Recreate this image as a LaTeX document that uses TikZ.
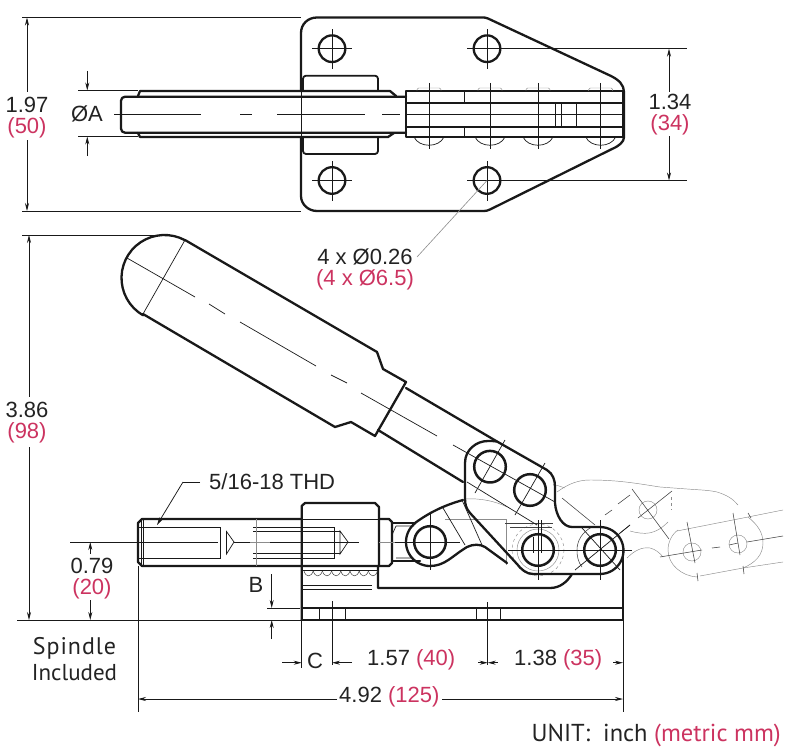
\documentclass[tikz,border=0pt]{standalone}
\usepackage{fontspec}
\setmainfont{Liberation Sans}
\newfontfamily\myriad{PT Sans}
\newfontfamily\myriadwide[LetterSpace=4]{PT Sans}
\usetikzlibrary{arrows.meta}
\definecolor{redtxt}{RGB}{204,51,96}
\definecolor{inktxt}{RGB}{35,35,35}
\tikzset{
  heavy/.style={line width=2.3pt,line join=round,line cap=round,black!90},
  fine/.style={line width=0.7pt,black!90},
  ghost/.style={line width=0.45pt,black!45},
  ghostblack/.style={line width=0.55pt,black!75},
  dimln/.style={line width=0.75pt,black!90},
  dimarrow/.style={dimln,-{Stealth[length=8pt,width=4pt]}},
  lab/.style={inner sep=0pt,font=\fontsize{22pt}{24pt}\selectfont,text=inktxt},
  redlab/.style={inner sep=0pt,font=\fontsize{22pt}{24pt}\selectfont,text=redtxt},
  caplab/.style={inner sep=0pt,font=\myriad\fontsize{24.5pt}{28pt}\selectfont,text=inktxt},
}
\newcommand{\sarc}[5]{-- plot[domain=#4:#5,samples=24] ({#1+#3*cos(\x)},{#2+#3*sin(\x)})}
\begin{document}
\begin{tikzpicture}[x=1pt,y=-1pt]
\useasboundingbox (0,0) rectangle (801,752);
\fill[white] (0,0) rectangle (801,752);

% ---------- TOP VIEW ----------
\coordinate (hA) at (332,48.7);
\coordinate (hB) at (332,180.5);
\coordinate (hC) at (487,48.7);
\coordinate (hD) at (487,180.5);
\draw[heavy] (301,91) -- (301,33) .. controls (301,24) and (308,17.5) .. (317,17.5)
  -- (482,17.5) .. controls (484,17.5) and (486,17.5) .. (488,18.5)
  -- (611,76) .. controls (619,80) and (624,85) .. (624,92)
  -- (624,137) .. controls (624,142) and (619,146) .. (612,149)
  -- (490,209.5) .. controls (488,210.5) and (486,211) .. (484,211)
  -- (317,211) .. controls (308,211) and (301,204) .. (301,196) -- (301,137);
\draw[fine] (301.5,91) -- (301.5,137);
\foreach \h in {hA,hB,hC,hD}{
  \draw[heavy] (\h) circle[radius=13.3];
  \draw[fine] ([xshift=-20pt]\h) -- ([xshift=20pt]\h) ([yshift=-20pt]\h) -- ([yshift=20pt]\h);
}
% handle in top view
\draw[heavy,rounded corners=4pt] (406,96.7) -- (121,96.7) -- (121,132.7) -- (406,132.7);
\draw[heavy] (138,96) -- (140,91) -- (390,91) -- (396,96);
\draw[heavy] (138,133) -- (140,137) -- (388,137) -- (394,133);
\draw[heavy,line width=1.8pt,rounded corners=3pt] (303,91) -- (303,75.7) -- (378,75.7) -- (378,91);
\draw[heavy,line width=1.8pt,rounded corners=3pt] (303,137) -- (303,154) -- (378,154) -- (378,137);
\draw[fine] (114,114.3) -- (201,114.3) (240,114.3) -- (252,114.3) (277,114.3) -- (365,114.3) (382,114.3) -- (400,114.3);
% right rectangle
\draw[heavy] (406,91) rectangle (622.7,137);
\draw[heavy] (406,102.7) -- (622.7,102.7) (406,126.7) -- (622.7,126.7);
\draw[fine] (406,114.3) -- (622,114.3);
\draw[fine] (464,91) -- (464,102.7) (464,126.7) -- (464,137);
\draw[fine] (555.7,102.7) -- (555.7,126.7) (561.7,102.7) -- (561.7,126.7) (576.7,102.7) -- (576.7,126.7);
\foreach \rx in {429,490,538,600.7}{
  \draw[fine] (\rx,83) -- (\rx,149);
  \draw[ghost,rounded corners=1.5pt] (\rx-12,91) -- (\rx-12,88) -- (\rx+12,88) -- (\rx+12,91);
  \draw[fine] (\rx-15,137) .. controls (\rx-10,148) and (\rx+10,148) .. (\rx+15,137);
}
% top-view dimensions
\draw[dimln] (22,17.5) -- (301,17.5) (22,211) -- (301,211);
\draw[dimln,{Stealth[length=8pt,width=4pt]}-] (27,17.5) -- (27,92);
\draw[dimln,-{Stealth[length=8pt,width=4pt]}] (27,140) -- (27,211);
\node[lab] (t197) at (27,105) {1.97};
\node[redlab] (t50) at (27,127.5) {(50)};
\draw[dimln] (78,90.5) -- (138,90.5) (78,136.5) -- (138,136.5);
\draw[dimarrow] (87.3,71) -- (87.3,90.5);
\draw[dimarrow] (87.3,156) -- (87.3,136.5);
\node[lab] (tA) at (87,114) {ØA};
\draw[dimln] (507,48.7) -- (687,48.7) (507,180.5) -- (687,180.5);
\draw[dimln,{Stealth[length=8pt,width=4pt]}-] (669,48.7) -- (669,92);
\draw[dimln,-{Stealth[length=8pt,width=4pt]}] (669,136) -- (669,180.5);
\node[lab] (t134) at (670,102) {1.34};
\node[redlab] (t34) at (670,124.5) {(34)};
\node[lab] (t026) at (365,257) {4 x Ø0.26};
\node[redlab] (t65) at (365,279.5) {(4 x Ø6.5)};
\draw[ghost,line width=0.6pt] (hD) -- (417,257);

% ---------- GHOST (open position) ----------
\draw[ghost] (557,492) .. controls (568,484) and (578,480) .. (590,480) .. controls (620,480) and (640,484) .. (660,487)
  -- (687,489) .. controls (700,490) and (708,490) .. (717,492) .. controls (727,495) and (733,499) .. (738,505);
\draw[ghost] (677,531) -- (748,517) (748,517) -- (783,510);
\draw[ghost] (700,576) -- (743,568) -- (783,562);
\draw[ghost] (748,517) .. controls (758,525) and (763,533) .. (763,543) .. controls (763,555) and (755,563) .. (743,568);
\draw[ghost] (678,530) .. controls (672,534) and (668,542) .. (668,550) .. controls (668,565) and (682,576) .. (697,577);
\draw[ghost] (630,531) .. controls (645,535) and (655,535) .. (668,522);
\draw[ghost] (627,558) .. controls (635,550) and (642,547) .. (650,548) .. controls (655,549) and (660,553) .. (663,557);
\draw[ghost,dashed] (671,497) -- (671,510);
\draw[ghost] (692,552) circle[radius=9];
\draw[ghost] (738,544) circle[radius=9];
\draw[ghost] (648,510) circle[radius=9];
\draw[ghostblack] (660,557) -- (702,550) (712,548) -- (720,547) (729,545) -- (738,543) (747,542) -- (783,536);
\draw[ghostblack] (687,522) -- (695,563) (733,513) -- (740,555);
\draw[ghostblack] (697,573) -- (698,581) (743,566) -- (744,574) (748,513) -- (751,518);
\draw[ghostblack] (632,489) -- (669,539) (672,491) -- (638,518);
\draw[ghostblack] (605,515) -- (612,510) (618,504) -- (630,495);
\draw[ghostblack] (620,533) -- (630,525);

% ---------- SIDE VIEW: thin construction lines ----------
\draw[ghost] (445,519) -- (506,519) -- (506,565);
\draw[ghost,dashed] (538,550) circle[radius=26];
\draw[ghost] (538,550) circle[radius=21];
\draw[ghost] (465,499) .. controls (480,498) and (495,501) .. (507,507);
\draw[ghost] (553,484) -- (565,488);
\draw[ghostblack] (505,523) -- (553,523) (510,527) -- (552,527);
\draw[fine] (533,537) -- (533,553) (541,520) -- (541,553);
\draw[ghostblack] (562,498) -- (595,525);
\draw[fine] (582,528) -- (620,570) (630,525) -- (575,570);
\draw[ghostblack] (592,527) .. controls (582,532) and (577,541) .. (577,550) .. controls (577,556) and (578,562) .. (582,567);

% ---------- HANDLE ----------
\draw[heavy] (185,240) -- (377,352) -- (383,369) -- (406,382) -- (375,436) -- (351,422) -- (335,427) -- (143,314)
  \sarc{164.5}{278}{43}{120}{298};
\draw[heavy] (406,388) -- (497,441.5);
\draw[heavy] (378,430) -- (463,482);
\draw[fine] (185,240) -- (143,314);
\draw[fine] (127,258) -- (195,297) (209,304) -- (225,314) (240,322) -- (316,366) (331,375) -- (347,383) (361,393) -- (437,436) (453,445) -- (555,502);
\draw[fine] (467,482) -- (537,525);

% clevis plate
\draw[heavy] (497,441.5) -- (547,470) .. controls (553,474) and (555,480) .. (555,487)
  -- (555,503) .. controls (556,516) and (563,527) .. (572,527) -- (600,527)
  \sarc{600}{550.5}{23.5}{-90}{90} -- (533,574)
  .. controls (526,574) and (521,569) .. (517,564) -- (470,513)
  .. controls (466,508) and (465,505) .. (465,498) -- (465,463)
  .. controls (465,450) and (476,441) .. (488,441) .. controls (491,441) and (494,441) .. (497,441.5);
% link
\draw[heavy] (463,500) .. controls (445,505) and (430,512) .. (415,523)
  \sarc{430}{542}{24}{232}{90}
  .. controls (445,566) and (452,556) .. (467,547) .. controls (473,544) and (480,544) .. (485,547) -- (507,563);
\draw[fine] (443,508) -- (465,545) (462,500) -- (482,545);
\draw[fine] \sarc{430}{542}{20.5}{-65}{65};
% holes
\foreach \cx/\cy in {490/466.7,530/490,538/550,600/550,430/542}{
  \draw[heavy,line width=2.5pt] (\cx,\cy) circle[radius=15.8];
}
\draw[fine] (475,493) -- (505,440) (515,515) -- (545,463);
\draw[fine] (395,542) -- (460,542) (430,512) -- (430,570);
\draw[fine] (508,550) -- (632,550);
\draw[fine] (538,520) -- (538,580) (600,520) -- (600,580);

% ---------- SPINDLE AND BASE ----------
\draw[heavy] (301.7,519) -- (142,519) -- (138,523) -- (138,562) -- (142,566) -- (379,566);
\draw[heavy] (301.7,620) -- (301.7,506) -- (305,503) -- (375,503) -- (379,507) -- (379,566);
\draw[heavy] (379,519) -- (389,519) -- (392,522) -- (392,563) -- (389,566) -- (379,566);
\draw[heavy] (392,523) -- (415,523) (392,561) -- (420,561);
\draw[fine] (396,526) -- (414,526) (396,558) -- (413,558) (396,526) -- (392,535);
\draw[heavy] (378,566) -- (378,588) -- (550,588) .. controls (560,588) and (567,582) .. (572,574);
\draw[heavy] (301.7,620) -- (623,620) -- (623,550);
\draw[heavy] (301.7,608) -- (623,608);
\draw[fine] (476,608) -- (476,620) (500,608) -- (500,620);
\draw[fine] (319,608) -- (319,620) (345,608) -- (345,620);
\draw[fine] (301.7,519) -- (379,519);
\draw[fine] (70,542) -- (218,542) (234,542) -- (250,542) (270,542) -- (359,542);
\draw[ghost] (250,542) -- (270,542) (379,542) -- (395,542);
\draw[fine] (141,519) -- (141,566) (143.5,519) -- (143.5,566);
\draw[fine] (138,527.3) -- (220.7,527.3) -- (220.7,558.3) -- (138,558.3);
\draw[fine] (226.5,531.5) -- (234,542) -- (226.5,554) -- cycle;
\draw[fine] (253.3,527.3) -- (334.3,527.3) -- (334.3,558.3) -- (253.3,558.3) (253.3,531) -- (340,531) (253.3,553) -- (340,553);
\draw[fine] (340,531) -- (348,542) -- (340,554) -- cycle;
\draw[ghost] (256.7,519) -- (256.7,566);
\foreach \i in {0,...,7}{
  \draw[line width=0.45pt,black!80] (304+9.2*\i,571) .. controls (306+9.2*\i,577.5) and (311+9.2*\i,577.5) .. (313.2+9.2*\i,571);
}
\draw[fine] (303,570) -- (378,570);
\draw[fine] (301.7,585.7) -- (372,585.7) (301.7,589) -- (372,589);
\draw[fine] (487.7,602) -- (487.7,665);
\draw[fine] (332,601) -- (332,665);

% ---------- SIDE-VIEW DIMENSIONS ----------
\draw[dimln] (22,235) -- (163,235);
\draw[dimln] (17,620) -- (301,620);
\draw[dimln,{Stealth[length=8pt,width=4pt]}-] (29,235) -- (29,397);
\draw[dimln,-{Stealth[length=8pt,width=4pt]}] (29,447) -- (29,620);
\node[lab] (t386) at (27,410) {3.86};
\node[redlab] (t98) at (27,433) {(98)};
\draw[dimarrow] (90.3,554) -- (90.3,542);
\draw[dimarrow] (90.3,600) -- (90.3,620);
\node[lab] (t079) at (92,566) {0.79};
\node[redlab] (t20) at (92,589) {(20)};
\node[lab,anchor=west] (tthd) at (209,482) {5/16-18 THD};
\coordinate (thdbend) at (183,482);
\coordinate (thdtip) at (157,525);
\draw[dimln] (200,482) -- (thdbend);
\draw[dimarrow] (thdbend) -- (thdtip);
\node[lab] (tB) at (256,585) {B};
\draw[dimarrow] (271.7,574) -- (271.7,608);
\draw[dimarrow] (271.7,639) -- (271.7,620);
\draw[dimln] (267,608) -- (300,608);
\draw[dimln] (301.7,620) -- (301.7,668);
\draw[dimln] (138,566) -- (138,712);
\draw[dimln] (623,620) -- (623,712);
\node[lab] (tC) at (315,661) {C};
\draw[dimarrow] (282,662.7) -- (301.7,662.7);
\draw[dimarrow] (352,662.7) -- (332,662.7);
\node[lab,anchor=west] (t157) at (367,660) {1.57 \textcolor{redtxt}{(40)}};
\draw[dimarrow] (478,662.7) -- (487.7,662.7);
\draw[dimarrow] (497.5,662.7) -- (487.7,662.7);
\node[lab,anchor=west] (t138) at (514,660) {1.38 \textcolor{redtxt}{(35)}};
\draw[dimarrow] (613,662.7) -- (623,662.7);
\node[lab,anchor=west] (t492) at (339,697) {4.92 \textcolor{redtxt}{(125)}};
\draw[dimarrow] (337,699) -- (138,699);
\draw[dimarrow] (442,699) -- (623,699);
\node[caplab,font=\myriadwide\fontsize{24pt}{28pt}\selectfont] (tspindle) at (74.5,648) {Spindle};
\node[caplab,font=\myriad\fontsize{23pt}{28pt}\selectfont] (tincl) at (74.5,673) {Included};
\node[caplab,anchor=east] (tunit) at (781,735) {UNIT:\ \ inch \textcolor{redtxt}{(metric mm)}};
\end{tikzpicture}
\end{document}
